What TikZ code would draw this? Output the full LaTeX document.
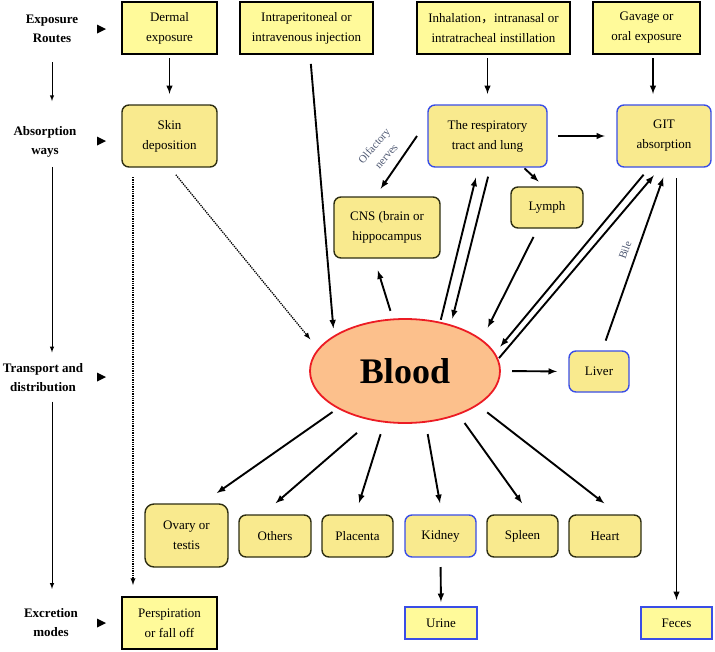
\documentclass[tikz,border=0pt]{standalone}
\usepackage{fontspec}
\setmainfont{Liberation Serif}
\newfontfamily\cjkfont{Noto Sans CJK SC}
\usepackage{tikz}
\usetikzlibrary{shapes.geometric}
\usetikzlibrary{arrows}

\definecolor{boxyellow}{HTML}{FFFA9A}
\definecolor{organyellow}{HTML}{F9EA8E}
\definecolor{boxblue}{HTML}{3A4EE6}
\definecolor{organedge}{HTML}{2E2E12}
\definecolor{bloodfill}{HTML}{FCC08C}
\definecolor{bloodred}{HTML}{EC1C24}
\definecolor{notegray}{HTML}{4E5872}

\tikzset{
	routebox/.style={draw=black, line width=1.8pt, fill=boxyellow, inner sep=0pt, outer sep=0pt, align=center, font=\fontsize{13}{20}\selectfont},
	organbox/.style={routebox, draw=organedge, fill=organyellow, rounded corners=7pt, line width=1.4pt},
	lungbox/.style={organbox, draw=boxblue},
	outbox/.style={routebox, draw=boxblue},
	sidelabel/.style={align=center, inner sep=0pt, outer sep=0pt, font=\fontsize{13}{19}\selectfont\bfseries},
	note/.style={align=center, inner sep=0pt, text=notegray, font=\fontsize{11}{16}\selectfont},
	flow/.style={-latex, line width=1.9pt},
	dotflow/.style={-latex, densely dotted, line width=1.3pt},
	sideflow/.style={-latex, line width=1pt}
}

\begin{document}
\begin{tikzpicture}[x=1pt, y=-1pt]
				\useasboundingbox (0,0) rectangle (715,651);
				% Stages on the left:
				\node[sidelabel] (Expo) at (52,28.5) {Exposure\\Routes};
				\node[sidelabel] (Absw) at (45,141.5) {Absorption\\ways};
				\node[sidelabel] (Trans) at (43,377.5) {Transport and\\distribution};
				\node[sidelabel] (Excr) at (51,623) {Excretion\\modes};
				\foreach \ty in {29,141,377,623}
					\fill (97,\ty-4.5) -- (106,\ty) -- (97,\ty+4.5) -- cycle;
				\draw[sideflow, shorten <=20pt, shorten >=25pt] (Expo.south) -- (Expo.south |- Absw.north);
				\draw[sideflow, shorten <=10pt, shorten >=11pt] (Absw.south -| Expo.south) -- (Expo.south |- Trans.north);
				\draw[sideflow, shorten <=10pt, shorten >=20pt] (Trans.south -| Expo.south) -- (Expo.south |- Excr.north);
				% Boxes:
				\node[routebox, minimum width=95pt, minimum height=52pt] (Dermal) at (169.5,28) {Dermal\\exposure};
				\node[routebox, minimum width=133pt, minimum height=52pt] (Inject) at (306.5,28) {Intraperitoneal or\\intravenous injection};
				\node[routebox, minimum width=153pt, minimum height=52pt] (Inhale) at (493.5,28) {Inhalation{\cjkfont ，}intranasal or\\intratracheal instillation};
				\node[routebox, minimum width=107pt, minimum height=52pt] (Gavage) at (646.5,28) {Gavage or\\oral exposure};
				\node[organbox, minimum width=95pt, minimum height=62pt] (Skin) at (169.5,136) {Skin\\deposition};
				\node[lungbox, minimum width=119pt, minimum height=62pt] (Lung) at (487.5,136) {The respiratory\\tract and lung};
				\node[lungbox, minimum width=94pt, minimum height=62pt] (GIT) at (664,136) {GIT\\absorption};
				\node[organbox, minimum width=106pt, minimum height=61pt] (CNS) at (387,227.5) {CNS (brain or\\hippocampus};
				\node[organbox, minimum width=72pt, minimum height=41pt] (Lymph) at (547,207.5) {Lymph};
				\node[ellipse, draw=bloodred, line width=1.8pt, fill=bloodfill, minimum width=190pt, minimum height=104pt, inner sep=0pt, outer sep=0pt, font=\fontsize{36}{36}\selectfont\bfseries] (Blood) at (405,371) {Blood};
				\node[lungbox, minimum width=60pt, minimum height=41pt] (Liver) at (599,371.5) {Liver};
				\node[organbox, rounded corners=9pt, minimum width=83pt, minimum height=63pt] (Ovary) at (186.5,535.5) {Ovary or\\testis};
				\node[organbox, minimum width=72pt, minimum height=42pt] (Others) at (275,536) {Others};
				\node[organbox, minimum width=71pt, minimum height=42pt] (Placenta) at (357.5,536) {Placenta};
				\node[lungbox, minimum width=71pt, minimum height=42pt] (Kidney) at (440.5,536) {Kidney};
				\node[organbox, minimum width=71pt, minimum height=42pt] (Spleen) at (522.5,536) {Spleen};
				\node[organbox, minimum width=72pt, minimum height=42pt] (Heart) at (605,536) {Heart};
				\node[routebox, minimum width=95pt, minimum height=52pt] (Persp) at (169.5,623) {Perspiration\\or fall off};
				\node[outbox, minimum width=72pt, minimum height=32pt] (Urine) at (441,623) {Urine};
				\node[outbox, minimum width=71pt, minimum height=32pt] (Feces) at (676.5,623) {Feces};
				\node[note, rotate=49] (Olf) at (380,151) {Olfactory\\nerves};
				\node[note, rotate=70] (Bile) at (625,250) {Bile};
				% Arrows:
				\draw[flow, shorten <=4pt, shorten >=11pt] (Dermal.south) -- (Skin.north);
				\draw[flow, shorten <=4pt, shorten >=11pt] (Lung.north |- Inhale.south) -- (Lung.north);
				\draw[flow, shorten <=4pt, shorten >=11pt] ([xshift=6.5pt]Gavage.south) -- ([xshift=-11pt]GIT.north);
				\draw[flow, shorten <=10pt, shorten >=8pt] ([xshift=3.5pt]Inject.south) -- (Blood.154);
				\draw[dotflow, shorten <=10pt, shorten >=13pt] (Skin.south) -- (Blood.166);
				\draw[dotflow, shorten <=10pt, shorten >=12pt] ([xshift=-36.5pt]Skin.south) -- ([xshift=-36.5pt]Persp.north);
				\draw[flow, shorten >=10pt] ([xshift=-11pt]Lung.west) -- ([xshift=-12pt]CNS.north);
				\draw[flow, shorten <=11pt, shorten >=12pt] (Lung.east) -- (GIT.west);
				\draw[flow, shorten <=2pt, shorten >=8pt] ([xshift=35.5pt]Lung.south) -- ([xshift=-2.5pt]Lymph.north);
				\draw[flow, shorten <=9pt, shorten >=13pt] (Blood.103) -- ([xshift=-13pt]CNS.south);
				\draw[flow, shorten <=3pt, shorten >=11pt] (Blood.54) -- ([xshift=-9pt]Lung.south);
				\draw[flow, shorten <=10pt, shorten >=7pt] ([xshift=3pt]Lung.south) -- (Blood.45);
				\draw[flow, shorten <=10pt, shorten >=14pt] ([xshift=-9pt]Lymph.south) -- (Blood.22);
				\draw[flow, shorten <=10pt, shorten >=9pt] ([xshift=-14pt]GIT.south) -- (Blood.11);
				\draw[flow, shorten <=2pt, shorten >=11pt] (Blood.7) -- ([xshift=-3pt]GIT.south);
				\draw[flow, shorten <=12pt, shorten >=12pt] (Blood.east) -- (Liver.west);
				\draw[flow, shorten <=11pt, shorten >=11pt] ([xshift=3pt]Liver.north) -- ([xshift=3pt]GIT.south);
				\draw[flow, shorten <=11pt, shorten >=7pt] (Feces.north |- GIT.south) -- (Feces.north);
				\draw[flow, shorten <=10pt, shorten >=5pt] (Kidney.south) -- (Urine.north);
				\draw[flow, shorten <=7pt, shorten >=19pt] (Blood.209) -- ([xshift=14.7pt]Ovary.north);
				\draw[flow, shorten <=20pt, shorten >=18pt] (Blood.236) -- ([xshift=-13pt]Others.north);
				\draw[flow, shorten <=13pt, shorten >=12.5pt] (Blood.248) -- ([xshift=-2.3pt]Placenta.north);
				\draw[flow, shorten <=12.5pt, shorten >=12pt] (Blood.292) -- ([xshift=1.6pt]Kidney.north);
				\draw[flow, shorten <=11pt, shorten >=14.5pt] (Blood.321) -- ([xshift=8pt]Spleen.north);
				\draw[flow, shorten <=12.5pt, shorten >=19pt] (Blood.335) -- ([xshift=14.3pt]Heart.north);
			\end{tikzpicture}
\end{document}
